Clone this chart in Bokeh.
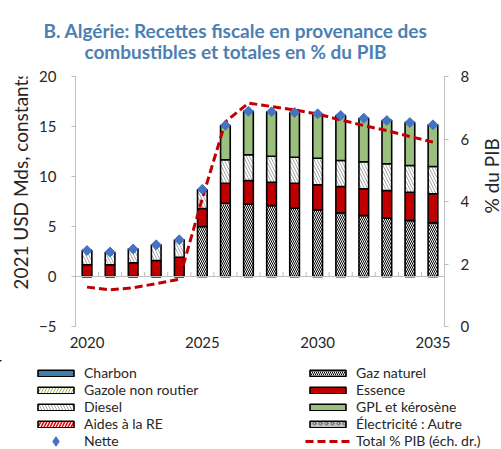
import numpy as np
from bokeh.plotting import figure
from bokeh.layouts import column, row
from bokeh.models import (Range1d, LinearAxis, Legend, LegendItem, Span, FixedTicker, Label)
from bokeh.embed import file_html
from bokeh.resources import INLINE

# ---------------- data ----------------
years = list(range(2020, 2036))
charbon = [0.0] * 16
gaz_naturel = [0, 0, 0, 0, 0, 5.0, 7.33, 7.23, 7.1, 6.83, 6.67, 6.37, 6.1, 5.83, 5.6, 5.37]
gazole_nr = [0.0] * 16
essence = [1.17, 1.17, 1.37, 1.6, 1.93, 1.8, 2.0, 2.37, 2.33, 2.5, 2.5, 2.63, 2.67, 2.77, 2.83, 2.9]
diesel = [1.43, 1.26, 1.4, 1.57, 1.74, 1.87, 2.34, 2.57, 2.6, 2.6, 2.66, 2.6, 2.7, 2.67, 2.67, 2.73]
gpl = [0, 0, 0, 0, 0, 0, 3.43, 4.36, 4.44, 4.47, 4.44, 4.5, 4.36, 4.33, 4.3, 4.17]
aides_re = [0.0] * 16
electricite = [0.0] * 16
nette = [2.6, 2.45, 2.75, 3.17, 3.67, 8.72, 15.12, 16.53, 16.47, 16.4, 16.27, 16.1, 15.83, 15.6, 15.4, 15.17]
total_pib = [1.26, 1.17, 1.24, 1.37, 1.51, 4.1, 6.55, 7.15, 7.04, 6.93, 6.8, 6.61, 6.43, 6.27, 6.08, 5.9]

x_ticks = [2020, 2025, 2030, 2035]
y_ticks = [-5, 0, 5, 10, 15, 20]
y2_ticks = [0, 2, 4, 6, 8]

title_lines = ["B. Algérie: Recettes fiscale en provenance des",
               "combustibles et totales en % du PIB"]
ylabel = "2021 USD Mds, constants"
y2label = "% du PIB"

FONT = "Lato"
TXT = "#262626"
TITLE_COL = "#4C7FB2"


def blank(w, h, x0, y0):
    """Axis-less figure whose data coordinates equal page pixels."""
    f = figure(width=w, height=h, output_backend="svg", toolbar_location=None,
               x_range=Range1d(x0, x0 + w), y_range=Range1d(y0 + h, y0),
               x_axis_type=None, y_axis_type=None, min_border=0)
    f.outline_line_color = None
    return f


TOP_H = 68
# ---------------- title ----------------
tf = blank(501, TOP_H, 0, 0)
for t, base in zip(title_lines, [30, 51]):
    tf.add_layout(Label(x=235, y=base, text=t, text_align="center", text_baseline="alphabetic",
                        text_font=FONT, text_font_size="19px", text_font_style="bold",
                        text_color=TITLE_COL))

# ---------------- axis titles ----------------
MID_H = 360 - TOP_H
lf = blank(35, MID_H, 0, TOP_H)
lf.add_layout(Label(x=20, y=189.5, text=ylabel, angle=np.pi / 2, text_align="center",
                    text_baseline="middle", text_font=FONT, text_font_size="19px", text_color=TXT))
rf = blank(21, MID_H, 480, TOP_H)
rf.add_layout(Label(x=490.5, y=184, text=y2label, angle=np.pi / 2, text_align="center",
                    text_baseline="middle", text_font=FONT, text_font_size="19px", text_color=TXT))

# ---------------- main plot ----------------
p = figure(width=445, height=MID_H, output_backend="svg", toolbar_location=None,
           x_range=Range1d(2019.5, 2035.5), y_range=Range1d(-5, 20),
           min_border_left=40, min_border_right=36, min_border_top=76 - TOP_H, min_border_bottom=34)
p.outline_line_color = None
p.xgrid.visible = False
p.ygrid.visible = False
p.extra_y_ranges = {"pct": Range1d(0, 8)}

ax = p.yaxis[0]
ax.ticker = FixedTicker(ticks=y_ticks)
ax2 = LinearAxis(y_range_name="pct", ticker=FixedTicker(ticks=y2_ticks))
p.add_layout(ax2, "right")
for a, so in ((ax, 15), (ax2, 12)):
    a.axis_line_color = "#BFBFBF"
    a.major_tick_line_color = "#BFBFBF"
    a.major_tick_out = 4
    a.major_tick_in = 0
    a.minor_tick_line_color = None
    a.major_label_standoff = so
    a.major_label_text_font = FONT
    a.major_label_text_font_size = "15px"
    a.major_label_text_color = TXT

xa = p.xaxis[0]
xa.ticker = FixedTicker(ticks=x_ticks)
xa.axis_line_color = None
xa.major_tick_line_color = None
xa.minor_tick_line_color = None
xa.major_tick_out = 0
xa.major_tick_in = 0
xa.major_label_standoff = 10
xa.major_label_text_font = FONT
xa.major_label_text_font_size = "15px"
xa.major_label_text_color = TXT

# zero line and category ticks
p.add_layout(Span(location=0, dimension="width", line_color="#BFBFBF", line_width=1))
bounds = [y + 0.5 for y in years[:-1]]
p.segment(x0=bounds, y0=[0] * len(bounds), x1=bounds, y1=[0.45] * len(bounds),
          line_color="#BFBFBF", line_width=1)

styles = {
    "Charbon": dict(fill_color="#3F7FAF"),
    "Gaz naturel": dict(fill_color="white", hatch_pattern="\\", hatch_color="black",
                        hatch_scale=4, hatch_weight=1),
    "Gazole non routier": dict(fill_color="white", hatch_pattern="/", hatch_color="#9BBB59",
                               hatch_scale=6, hatch_weight=1),
    "Essence": dict(fill_color="#C00000"),
    "Diesel": dict(fill_color="white", hatch_pattern="\\", hatch_color="#A6A6A6",
                   hatch_scale=6, hatch_weight=1),
    "GPL et kérosène": dict(fill_color="#9BC07D"),
    "Aides à la RE": dict(fill_color="white", hatch_pattern="/", hatch_color="#E00000",
                          hatch_scale=6, hatch_weight=1.5),
    "Électricité : Autre": dict(fill_color="#BFBFBF", hatch_pattern="o", hatch_color="#595959",
                                hatch_scale=6, hatch_weight=1),
}
series = [("Charbon", charbon), ("Gaz naturel", gaz_naturel), ("Gazole non routier", gazole_nr),
          ("Essence", essence), ("Diesel", diesel), ("GPL et kérosène", gpl),
          ("Aides à la RE", aides_re), ("Électricité : Autre", electricite)]
bottom = np.zeros(len(years))
for name, vals in series:
    v = np.array(vals, dtype=float)
    p.vbar(x=years, bottom=bottom.copy(), top=bottom + v, width=0.42,
           line_color="black", line_width=1.6, **styles[name])
    bottom = bottom + v

LINE_STYLE = dict(line_color="#C00000", line_width=3, line_dash="8 4")
NET_STYLE = dict(marker="square", angle=np.pi / 4, size=7, fill_color="#4472C4", line_color="#4472C4")
p.line(years, total_pib, y_range_name="pct", **LINE_STYLE)
p.scatter(years, nette, **NET_STYLE)

# ---------------- legend (proxy renderers kept outside the visible range) ----------------
lg = blank(501, 89, 0, 360)
OFF = [-1000]
rends = {}
for name, _ in series:
    rends[name] = lg.vbar(x=OFF, bottom=[0], top=[1], width=1, line_color="black",
                          line_width=1.6, **styles[name])
rends["Nette"] = lg.scatter(x=OFF, y=[0], marker="diamond", fill_color="#4472C4", line_color="#4472C4")
rends["Total % PIB (éch. dr.)"] = lg.line(x=[-1000, -990], y=[0, 0], **LINE_STYLE)

ROW = 17
groups = [
    (["Charbon", "Gazole non routier", "Diesel", "Aides à la RE"], (33, ROW), 8, ROW),
    (["Nette"], (33, -3.5), 24, 24),
    (["Gaz naturel", "Essence", "GPL et kérosène", "Électricité : Autre", "Total % PIB (éch. dr.)"], (305, 0), 8, ROW),
]
for names, loc, gh, lh in groups:
    lg.add_layout(Legend(items=[LegendItem(label=n, renderers=[rends[n]]) for n in names],
                         location=loc, orientation="vertical",
                         glyph_width=45, glyph_height=gh, label_height=lh, label_width=20,
                         label_standoff=6, spacing=0, padding=0, margin=0,
                         label_text_font=FONT, label_text_font_size="14px", label_text_color=TXT,
                         label_text_baseline="middle",
                         border_line_color=None, background_fill_alpha=0))

layout = column(tf, row(lf, p, rf), lg)
open("out.html", "w").write(file_html(layout, INLINE))
